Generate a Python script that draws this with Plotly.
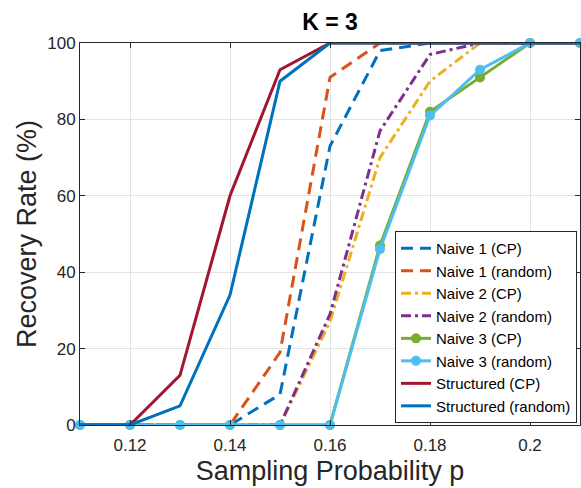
import plotly.graph_objects as go

p = [0.11, 0.12, 0.13, 0.14, 0.15, 0.16, 0.17, 0.18, 0.19, 0.20, 0.21]

naive1_cp = [0, 0, 0, 0, 8, 73, 98, 100, 100, 100, 100]
naive1_rand = [0, 0, 0, 0, 19, 91, 100, 100, 100, 100, 100]
naive2_cp = [0, 0, 0, 0, 0, 27, 70, 90, 100, 100, 100]
naive2_rand = [0, 0, 0, 0, 0, 29, 77, 97, 100, 100, 100]
naive3_cp = [0, 0, 0, 0, 0, 0, 47, 82, 91, 100, 100]
naive3_rand = [0, 0, 0, 0, 0, 0, 46, 81, 93, 100, 100]
struct_cp = [0, 0, 13, 60, 93, 100, 100, 100, 100, 100, 100]
struct_rand = [0, 0, 5, 34, 90, 100, 100, 100, 100, 100, 100]

x_ticks = [0.12, 0.14, 0.16, 0.18, 0.2]
x_labels = ["0.12", "0.14", "0.16", "0.18", "0.2"]
y_ticks = [0, 20, 40, 60, 80, 100]

series = [
    ("Naive 1 (CP)", naive1_cp, "#0072BD", "12px,7px", False),
    ("Naive 1 (random)", naive1_rand, "#D95319", "12px,7px", False),
    ("Naive 2 (CP)", naive2_cp, "#EDB120", "10px,4px,3px,4px", False),
    ("Naive 2 (random)", naive2_rand, "#7E2F8E", "10px,4px,3px,4px", False),
    ("Naive 3 (CP)", naive3_cp, "#77AC30", "solid", True),
    ("Naive 3 (random)", naive3_rand, "#4DBEEE", "solid", True),
    ("Structured (CP)", struct_cp, "#A2142F", "solid", False),
    ("Structured (random)", struct_rand, "#0072BD", "solid", False),
]

fig = go.Figure()
for name, vals, color, dash, markers in series:
    fig.add_trace(go.Scatter(
        x=p, y=vals, name=name,
        mode="lines+markers" if markers else "lines",
        line=dict(color=color, width=3, dash=dash),
        marker=dict(size=10, color=color),
        cliponaxis=not markers,
    ))

font = "Liberation Sans, Arial, sans-serif"
fig.update_layout(
    width=581, height=488,
    margin=dict(l=80, r=1, t=43, b=63),
    paper_bgcolor="white", plot_bgcolor="white",
    font=dict(family=font, color="#262626"),
    title=dict(text="<b>K = 3</b>", x=0.5, xref="paper", xanchor="center",
               y=1 - 22 / 488, yref="container", yanchor="middle",
               font=dict(size=23, color="black")),
    legend=dict(x=0.994, y=0.005, xanchor="right", yanchor="bottom",
                bgcolor="white", bordercolor="#262626", borderwidth=1,
                font=dict(size=15, color="black"), tracegroupgap=0),
    showlegend=True,
)
fig.update_xaxes(
    range=[0.11, 0.21], tickvals=x_ticks, ticktext=x_labels,
    showgrid=True, gridcolor="#e3e3e3", gridwidth=1,
    showline=True, linecolor="#262626", linewidth=1, mirror="ticks",
    ticks="inside", ticklen=5, tickcolor="#262626", ticklabelstandoff=5,
    tickfont=dict(size=17), zeroline=False, automargin=False,
    title=dict(text="Sampling Probability p", font=dict(size=27), standoff=6),
)
fig.update_yaxes(
    range=[0, 100], tickvals=y_ticks,
    showgrid=True, gridcolor="#e3e3e3", gridwidth=1,
    showline=True, linecolor="#262626", linewidth=1, mirror="ticks",
    ticks="inside", ticklen=5, tickcolor="#262626",
    tickfont=dict(size=17), zeroline=False, automargin=False,
    title=dict(text="Recovery Rate (%)", font=dict(size=27), standoff=2),
)

# drop the browser's default 8px body margin so the figure sits at the page corner
fig.write_html("out.html", config={"displayModeBar": False},
               post_script="document.body.style.margin = '0';")
